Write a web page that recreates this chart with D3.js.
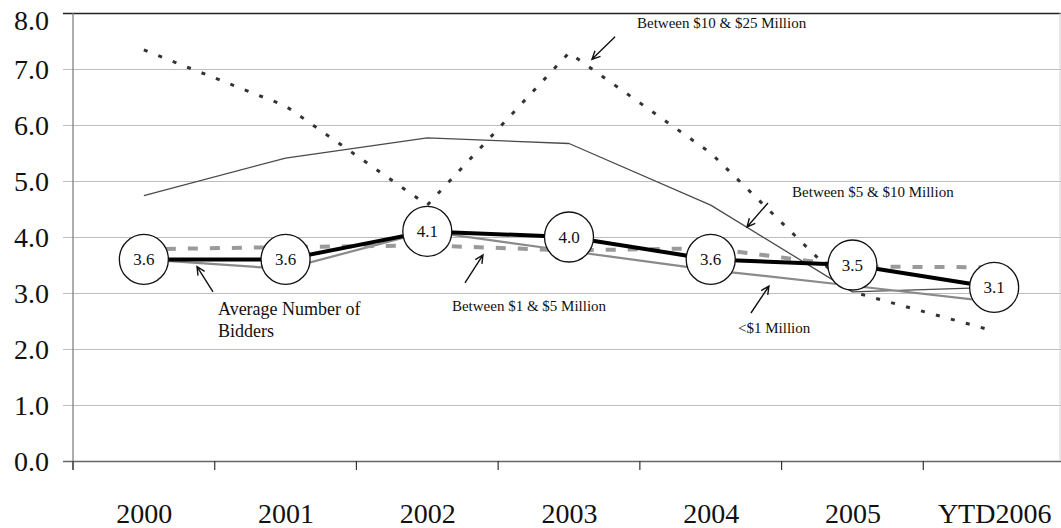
<!DOCTYPE html>
<html>
<head>
<meta charset="utf-8">
<script src="https://cdn.jsdelivr.net/npm/d3@7"></script>
<style>
  html, body { margin: 0; padding: 0; background: #fff; }
  svg { display: block; font-family: "Liberation Serif", "Times New Roman", serif; }
</style>
</head>
<body>
<svg id="chart" width="1061" height="528"></svg>
<script>
// Average number of bidders per auction, by transaction size
const categories = ["2000", "2001", "2002", "2003", "2004", "2005", "YTD2006"];
const avgBidders      = [3.6, 3.6, 4.1, 4.0, 3.6, 3.5, 3.1];
const under1M         = [3.6, 3.43, 4.1, 3.75, 3.41, 3.13, 2.84];
const between1and5M   = [3.78, 3.82, 3.85, 3.76, 3.8, 3.47, 3.46];
const between5and10M  = [4.74, 5.41, 5.77, 5.67, 4.57, 3.02, 3.1];
const between10and25M = [7.34, 6.34, 4.57, 7.29, 5.5, 3.02, 2.32];
const yTicks = [0, 1, 2, 3, 4, 5, 6, 7, 8];

// Callouts, anchored in (category index, value) space
const callouts = [
  { lines: ["Between $10 & $25 Million"], text: [3.48, 7.73], tail: [3.325, 7.577], head: [3.162, 7.173], size: 15 },
  { lines: ["Between $5 & $10 Million"],  text: [4.574, 4.714], tail: [4.404, 4.607], head: [4.256, 4.179], size: 15 },
  { lines: ["Between $1 & $5 Million"],   text: [2.174, 2.679], tail: [2.266, 3.179], head: [2.393, 3.679], size: 15 },
  { lines: ["<$1 Million"],               text: [4.193, 2.286], tail: [4.284, 2.643], head: [4.411, 3.125], size: 15 },
  { lines: ["Average Number of", "Bidders"], text: [0.523, 2.607], tail: [0.488, 3.018], head: [0.375, 3.47], size: 18 }
];

const svg = d3.select("#chart");
const W = 1061;
const plotLeft = 73, plotRight = 1065, plotTop = 13, plotBottom = 461;

const xBand = d3.scaleBand().domain(categories).range([plotLeft, plotRight]);
const x = d3.scalePoint().domain(categories).range([plotLeft, plotRight]).padding(0.5);
const xIdx = d3.scaleLinear().domain([0, categories.length - 1])
  .range([x(categories[0]), x(categories[categories.length - 1])]);
const y = d3.scaleLinear().domain([0, 8]).range([plotBottom, plotTop]);

// Horizontal gridlines with short ticks left of the axis
const gy = svg.append("g")
  .attr("transform", `translate(${plotLeft - 10},0)`)
  .call(d3.axisLeft(y).tickValues(yTicks).tickFormat(d3.format(".1f"))
    .tickSize(-(W - plotLeft + 10)).tickPadding(14));
gy.select(".domain").remove();
gy.selectAll(".tick line")
  .attr("stroke", d => d === 8 ? "#222" : (d === 0 ? "#666" : "#bdbdbd"))
  .attr("stroke-width", d => d === 8 ? 1.4 : (d === 0 ? 1.5 : 1));
gy.selectAll(".tick text")
  .attr("font-size", 28)
  .attr("fill", "#111")
  .attr("font-family", "Liberation Serif, Times New Roman, serif")
  .attr("dy", d => d === 8 ? "0.6em" : "0.33em");

// Vertical axis line and right border
svg.append("line").attr("x1", plotLeft).attr("x2", plotLeft).attr("y1", plotTop).attr("y2", plotBottom + 9)
  .attr("stroke", "#777").attr("stroke-width", 1.2);
svg.append("line").attr("x1", W - 1).attr("x2", W - 1).attr("y1", plotTop).attr("y2", plotBottom)
  .attr("stroke", "#cfcfcf").attr("stroke-width", 1);

// Category boundary ticks on the baseline
svg.append("g").selectAll("line").data(categories).join("line")
  .attr("x1", d => xBand(d)).attr("x2", d => xBand(d))
  .attr("y1", plotBottom).attr("y2", plotBottom + 9)
  .attr("stroke", "#333").attr("stroke-width", 1.2);

// Category labels
const gx = svg.append("g")
  .attr("transform", `translate(0,${plotBottom})`)
  .call(d3.axisBottom(x).tickSize(0).tickPadding(0));
gx.select(".domain").remove();
gx.selectAll(".tick text")
  .attr("font-size", 28)
  .attr("fill", "#111")
  .attr("font-family", "Liberation Serif, Times New Roman, serif")
  .attr("y", 62).attr("dy", 0);

const line = d3.line().x((d, i) => x(categories[i])).y(d => y(d));

const seriesStyles = [
  { values: between10and25M, stroke: "#333", width: 3, dash: "4,11.5" },
  { values: between5and10M,  stroke: "#4a4a4a", width: 1.3, dash: null },
  { values: under1M,         stroke: "#8a8a8a", width: 2.2, dash: null },
  { values: between1and5M,   stroke: "#9a9a9a", width: 4, dash: "10,12" },
  { values: avgBidders,      stroke: "#000", width: 4, dash: null }
];

svg.append("g").selectAll("path").data(seriesStyles).join("path")
  .attr("d", d => line(d.values))
  .attr("fill", "none")
  .attr("stroke", d => d.stroke)
  .attr("stroke-width", d => d.width)
  .attr("stroke-dasharray", d => d.dash)
  .attr("stroke-linejoin", "round");

// Labelled markers on the average series
const marks = svg.append("g").selectAll("g").data(avgBidders).join("g")
  .attr("transform", (d, i) => `translate(${x(categories[i])},${y(d)})`);
marks.append("ellipse").attr("rx", 24.5).attr("ry", 25)
  .attr("fill", "#fff").attr("stroke", "#111").attr("stroke-width", 1.3);
marks.append("text")
  .attr("text-anchor", "middle").attr("dy", "0.35em")
  .attr("font-size", 17).attr("fill", "#111")
  .text(d => d3.format(".1f")(d));

// Callout text and arrows
const P = p => [xIdx(p[0]), y(p[1])];
const cg = svg.append("g");
callouts.forEach(c => {
  const [tx, ty] = P(c.text);
  const t = cg.append("text").attr("x", tx).attr("y", ty)
    .attr("font-size", c.size).attr("fill", "#111");
  c.lines.forEach((s, i) => {
    t.append("tspan").attr("x", tx).attr("dy", i === 0 ? 0 : c.size * 1.2).text(s);
  });
  const [x1, y1] = P(c.tail);
  const [x2, y2] = P(c.head);
  const ang = Math.atan2(y2 - y1, x2 - x1);
  const L = 9, spread = 0.45;
  const a1 = [x2 - L * Math.cos(ang - spread), y2 - L * Math.sin(ang - spread)];
  const a2 = [x2 - L * Math.cos(ang + spread), y2 - L * Math.sin(ang + spread)];
  cg.append("path")
    .attr("d", `M${x1},${y1}L${x2},${y2}M${a1[0]},${a1[1]}L${x2},${y2}L${a2[0]},${a2[1]}`)
    .attr("fill", "none").attr("stroke", "#111").attr("stroke-width", 1.4);
});
</script>
</body>
</html>
